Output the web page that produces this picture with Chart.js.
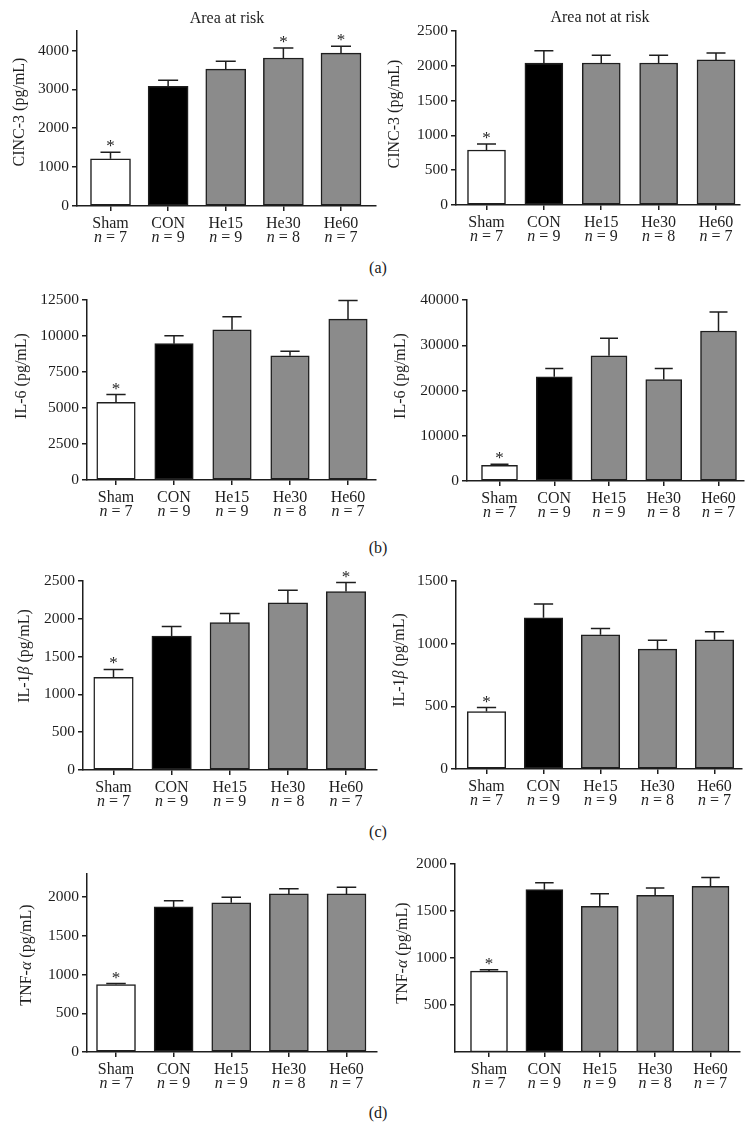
<!DOCTYPE html>
<html lang="en">
<head>
  <meta charset="UTF-8" />
  <title>Cytokines: area at risk / area not at risk</title>
  <script src="https://cdn.jsdelivr.net/npm/chart.js"></script>
  <style>
    body {
      margin: 0;
      background: #fff;
      width: 756px;
      height: 1133px;
      position: relative;
      overflow: hidden;
      font-family: "Liberation Serif", serif;
    }
    .panel {
      position: absolute;
    }
    .sub {
      position: absolute;
      width: 40px;
      margin-left: -20px;
      text-align: center;
      font-size: 16px;
      color: #1a1a1a;
    }
  </style>
</head>
<body>
  <div class="panel" style="left:0;top:0;width:378px;height:250px"><canvas id="aL"></canvas></div>
  <div class="panel" style="left:378px;top:0;width:378px;height:250px"><canvas id="aR"></canvas></div>
  <div class="panel" style="left:0;top:285px;width:378px;height:245px"><canvas id="bL"></canvas></div>
  <div class="panel" style="left:378px;top:285px;width:378px;height:245px"><canvas id="bR"></canvas></div>
  <div class="panel" style="left:0;top:565px;width:378px;height:250px"><canvas id="cL"></canvas></div>
  <div class="panel" style="left:378px;top:565px;width:378px;height:250px"><canvas id="cR"></canvas></div>
  <div class="panel" style="left:0;top:850px;width:378px;height:250px"><canvas id="dL"></canvas></div>
  <div class="panel" style="left:378px;top:850px;width:378px;height:250px"><canvas id="dR"></canvas></div>

  <div class="sub" style="left:378px;top:259px">(a)</div>
  <div class="sub" style="left:378px;top:539px">(b)</div>
  <div class="sub" style="left:378px;top:823px">(c)</div>
  <div class="sub" style="left:378px;top:1104px">(d)</div>

  <script>
    // groups and sample sizes
    const groups = ['Sham', 'CON', 'He15', 'He30', 'He60'];
    const groupN = [7, 9, 9, 8, 7];

    // mean and SEM (pg/mL)
    const cinc3RiskMean = [1215, 3080, 3520, 3805, 3930];
    const cinc3RiskSem = [170, 155, 200, 255, 175];
    const cinc3RiskSig = [1, 0, 0, 1, 1];

    const cinc3NonRiskMean = [790, 2040, 2040, 2040, 2085];
    const cinc3NonRiskSem = [86, 175, 112, 112, 100];
    const cinc3NonRiskSig = [1, 0, 0, 0, 0];

    const il6RiskMean = [5400, 9470, 10430, 8620, 11170];
    const il6RiskSem = [530, 550, 900, 320, 1290];
    const il6RiskSig = [1, 0, 0, 0, 0];

    const il6NonRiskMean = [3470, 23030, 27680, 22440, 33140];
    const il6NonRiskSem = [220, 1850, 3840, 2440, 4200];
    const il6NonRiskSig = [1, 0, 0, 0, 0];

    const il1bRiskMean = [1225, 1770, 1950, 2210, 2360];
    const il1bRiskSem = [105, 128, 119, 168, 119];
    const il1bRiskSig = [1, 0, 0, 0, 1];

    const il1bNonRiskMean = [458, 1206, 1071, 957, 1031];
    const il1bNonRiskSem = [32, 111, 50, 71, 64];
    const il1bNonRiskSig = [1, 0, 0, 0, 0];

    const tnfRiskMean = [871, 1875, 1927, 2043, 2043];
    const tnfRiskSem = [13, 78, 73, 65, 86];
    const tnfRiskSig = [1, 0, 0, 0, 0];

    const tnfNonRiskMean = [861, 1727, 1550, 1666, 1762];
    const tnfNonRiskSem = [14, 74, 134, 78, 95];
    const tnfNonRiskSig = [1, 0, 0, 0, 0];

    // y axis settings: [max, step, first labelled tick, last labelled tick]
    const cinc3RiskAxis = [4500, 1000, 0, 4000];
    const cinc3NonRiskAxis = [2500, 500, 0, 2500];
    const il6RiskAxis = [12500, 2500, 0, 12500];
    const il6NonRiskAxis = [40000, 10000, 0, 40000];
    const il1bRiskAxis = [2500, 500, 0, 2500];
    const il1bNonRiskAxis = [1500, 500, 0, 1500];
    const tnfRiskAxis = [2300, 500, 0, 2000];
    const tnfNonRiskAxis = [2000, 500, 500, 2000];

    // axis titles as [text, italic] pieces
    const cinc3Title = [['CINC-3 (pg/mL)', false]];
    const il6Title = [['IL-6 (pg/mL)', false]];
    const il1bTitle = [['IL-1', false], ['β', true], [' (pg/mL)', false]];
    const tnfTitle = [['TNF-', false], ['α', true], [' (pg/mL)', false]];

    const barColors = ['#ffffff', '#000000', '#8b8b8b', '#8b8b8b', '#8b8b8b'];
    const ink = '#1e1e1e';
    const FONT = '"Liberation Serif", "Times New Roman", serif';

    // page geometry of each panel: canvas box, plot box, first/last bar centre, bar width, y title centre
    const panels = [
      { id: 'aL', box: [0, 0, 378, 250], L: 77, T: 31, R: 376, B: 206, c0: 110.5, c4: 341, bw: 40,
        mean: cinc3RiskMean, sem: cinc3RiskSem, sig: cinc3RiskSig, axis: cinc3RiskAxis,
        ytitle: cinc3Title, yt: [20, 112], title: ['Area at risk', 227, 19] },
      { id: 'aR', box: [378, 0, 378, 250], L: 456, T: 31, R: 740, B: 205, c0: 486.5, c4: 716, bw: 38,
        mean: cinc3NonRiskMean, sem: cinc3NonRiskSem, sig: cinc3NonRiskSig, axis: cinc3NonRiskAxis,
        ytitle: cinc3Title, yt: [395, 114], title: ['Area not at risk', 600, 18] },
      { id: 'bL', box: [0, 285, 378, 245], L: 87, T: 300, R: 376, B: 480, c0: 116, c4: 348, bw: 38.5,
        mean: il6RiskMean, sem: il6RiskSem, sig: il6RiskSig, axis: il6RiskAxis,
        ytitle: il6Title, yt: [22, 376] },
      { id: 'bR', box: [378, 285, 378, 245], L: 467, T: 300, R: 744, B: 481, c0: 499.5, c4: 718.5, bw: 36,
        mean: il6NonRiskMean, sem: il6NonRiskSem, sig: il6NonRiskSig, axis: il6NonRiskAxis,
        ytitle: il6Title, yt: [401, 376] },
      { id: 'cL', box: [0, 565, 378, 250], L: 83, T: 581, R: 377, B: 770, c0: 113.5, c4: 346, bw: 39.5,
        mean: il1bRiskMean, sem: il1bRiskSem, sig: il1bRiskSig, axis: il1bRiskAxis,
        ytitle: il1bTitle, yt: [25, 656] },
      { id: 'cR', box: [378, 565, 378, 250], L: 456, T: 581, R: 742, B: 769, c0: 486.5, c4: 714.5, bw: 38.5,
        mean: il1bNonRiskMean, sem: il1bNonRiskSem, sig: il1bNonRiskSig, axis: il1bNonRiskAxis,
        ytitle: il1bTitle, yt: [400, 660] },
      { id: 'dL', box: [0, 850, 378, 250], L: 87, T: 874, R: 377, B: 1052, c0: 116, c4: 346.5, bw: 39,
        mean: tnfRiskMean, sem: tnfRiskSem, sig: tnfRiskSig, axis: tnfRiskAxis,
        ytitle: tnfTitle, yt: [27, 955] },
      { id: 'dR', box: [378, 850, 378, 250], L: 455, T: 864, R: 740, B: 1052, c0: 489, c4: 710.5, bw: 37,
        mean: tnfNonRiskMean, sem: tnfNonRiskSem, sig: tnfNonRiskSig, axis: tnfNonRiskAxis,
        ytitle: tnfTitle, yt: [403, 953] }
    ];

    // draws [text, italic] pieces centred on x
    function drawPieces(ctx, pieces, x, y, size) {
      const fonts = pieces.map(p => (p[1] ? 'italic ' : '') + size + 'px ' + FONT);
      let total = 0;
      pieces.forEach((p, i) => { ctx.font = fonts[i]; total += ctx.measureText(p[0]).width; });
      let cx = x - total / 2;
      ctx.textAlign = 'left';
      pieces.forEach((p, i) => {
        ctx.font = fonts[i];
        ctx.fillText(p[0], cx, y);
        cx += ctx.measureText(p[0]).width;
      });
    }

    function makeAnnotations(p) {
      const ox = p.box[0], oy = p.box[1];
      return {
        id: 'annotate-' + p.id,
        afterDatasetsDraw(chart) {
          const ctx = chart.ctx;
          const ys = chart.scales.y;
          const meta = chart.getDatasetMeta(0);
          ctx.save();
          ctx.strokeStyle = ink;
          ctx.fillStyle = ink;
          ctx.lineWidth = 1.5;
          meta.data.forEach((bar, i) => {
            const top = ys.getPixelForValue(p.mean[i] + p.sem[i]);
            const half = bar.width * 0.25;
            ctx.beginPath();
            ctx.moveTo(bar.x, bar.y);
            ctx.lineTo(bar.x, top);
            ctx.moveTo(bar.x - half, top);
            ctx.lineTo(bar.x + half, top);
            ctx.stroke();
            if (p.sig[i]) {
              ctx.font = '17px ' + FONT;
              ctx.textAlign = 'center';
              ctx.textBaseline = 'alphabetic';
              ctx.fillText('*', bar.x, top - 1);
            }
          });
          ctx.restore();
        },
        afterDraw(chart) {
          const ctx = chart.ctx;
          const xs = chart.scales.x;
          ctx.save();
          ctx.fillStyle = ink;
          ctx.textBaseline = 'middle';
          groups.forEach((g, i) => {
            const x = xs.getPixelForValue(i);
            const base = chart.chartArea.bottom;
            drawPieces(ctx, [[g, false]], x, base + 18, 16);
            drawPieces(ctx, [['n', true], [' = ' + groupN[i], false]], x, base + 32, 16);
          });
          // y axis title
          ctx.save();
          ctx.translate(p.yt[0] - ox, p.yt[1] - oy);
          ctx.rotate(-Math.PI / 2);
          drawPieces(ctx, p.ytitle, 0, 0, 16);
          ctx.restore();
          if (p.title) {
            drawPieces(ctx, [[p.title[0], false]], p.title[1] - ox, p.title[2] - oy, 16);
          }
          ctx.restore();
        }
      };
    }

    function makePanel(p) {
      const [bx, by, bwid, bht] = p.box;
      const spacing = (p.c4 - p.c0) / 4;
      const [ymax, ystep, yfirst, ylast] = p.axis;
      const canvas = document.getElementById(p.id);

      return new Chart(canvas, {
        type: 'bar',
        data: {
          datasets: [{
            data: p.mean.map((v, i) => ({ x: i, y: v })),
            backgroundColor: barColors,
            borderColor: ink,
            borderWidth: 1.5,
            borderSkipped: false,
            barThickness: p.bw
          }]
        },
        options: {
          responsive: true,
          maintainAspectRatio: false,
          animation: false,
          events: [],
          layout: {
            padding: { left: 0, top: p.T - by, right: bx + bwid - p.R, bottom: 0 }
          },
          plugins: {
            legend: { display: false },
            tooltip: { enabled: false }
          },
          scales: {
            x: {
              type: 'linear',
              offset: false,
              min: -(p.c0 - p.L) / spacing,
              max: 4 + (p.R - p.c4) / spacing,
              afterBuildTicks: s => { s.ticks = groups.map((g, i) => ({ value: i })); },
              afterFit: s => { s.height = by + bht - p.B; },
              ticks: { display: false },
              grid: { offset: false, drawOnChartArea: false, drawTicks: true, tickLength: 5, color: ink, lineWidth: 1.5 },
              border: { display: true, color: ink, width: 1.5 }
            },
            y: {
              min: 0,
              max: ymax,
              afterBuildTicks: s => {
                const t = [];
                for (let v = yfirst; v <= ylast; v += ystep) t.push({ value: v });
                s.ticks = t;
              },
              afterFit: s => { s.width = p.L - bx; },
              ticks: {
                color: ink,
                padding: 3,
                font: { family: FONT, size: 15.5 },
                callback: v => String(v)
              },
              grid: { drawOnChartArea: false, drawTicks: true, tickLength: 5, color: ink, lineWidth: 1.5 },
              border: { display: true, color: ink, width: 1.5 }
            }
          }
        },
        plugins: [makeAnnotations(p)]
      });
    }

    panels.forEach(makePanel);
  </script>
</body>
</html>
